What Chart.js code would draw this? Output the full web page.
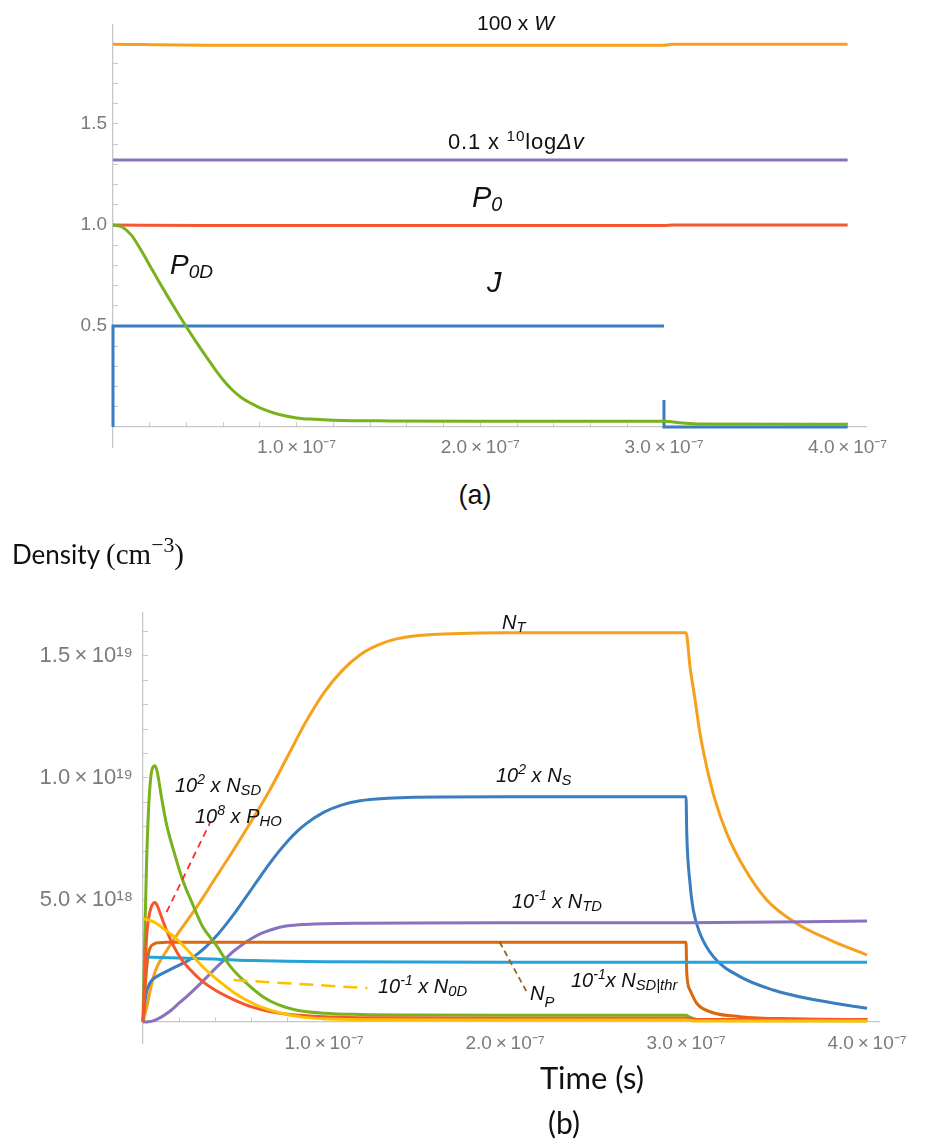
<!DOCTYPE html>
<html><head><meta charset="utf-8">
<script src="https://cdn.jsdelivr.net/npm/chart.js@4.4.1/dist/chart.umd.min.js"></script>
<style>
html,body{margin:0;padding:0;background:#fff;}
body{width:931px;height:1147px;position:relative;overflow:hidden;font-family:"Liberation Sans",Arial,sans-serif;}
canvas{position:absolute;left:0;}
#ca{top:0}
#cb{top:560px}
.l{position:absolute;white-space:nowrap;line-height:1;color:#111;}
.m{font-style:italic;}
.sup{font-size:0.7em;position:relative;top:-0.55em;}
.sub{font-size:0.74em;position:relative;top:0.2em;}
.cal{font-family:Lato,"Open Sans",sans-serif;color:#111;}
.ser{font-family:"Liberation Serif","DejaVu Serif",serif;}
</style></head><body>
<canvas id="ca" width="931" height="480"></canvas>
<canvas id="cb" width="931" height="587"></canvas>

<!-- panel (a) labels -->
<div class="l" style="left:477px;top:12px;font-size:21px">100 x <i>W</i></div>
<div class="l" style="left:448px;top:131px;font-size:22px;letter-spacing:0.8px">0.1 x <span class="sup">10</span>log<i>Δv</i></div>
<div class="l m" style="left:472px;top:183px;font-size:29px">P<span class="sub" style="font-size:0.68em">0</span></div>
<div class="l m" style="left:170px;top:251px;font-size:28px">P<span class="sub" style="font-size:0.68em">0D</span></div>
<div class="l m" style="left:487px;top:268px;font-size:29px">J</div>
<div class="l" style="left:425px;width:100px;text-align:center;top:482px;font-size:27px">(a)</div>

<!-- panel (b) labels -->
<div class="l cal" style="left:12px;top:540px;font-size:26px">Density <span class="ser" style="font-size:29px">(cm<span class="sup" style="font-size:0.75em">−3</span>)</span></div>
<div class="l m" style="left:502px;top:612px;font-size:20px">N<span class="sub">T</span></div>
<div class="l m" style="left:496px;top:765px;font-size:20px">10<span class="sup">2</span> x N<span class="sub">S</span></div>
<div class="l m" style="left:175px;top:775px;font-size:20px">10<span class="sup">2</span> x N<span class="sub">SD</span></div>
<div class="l m" style="left:195px;top:806px;font-size:20px">10<span class="sup">8</span> x P<span class="sub">HO</span></div>
<div class="l m" style="left:512px;top:891px;font-size:20px">10<span class="sup">-1</span> x N<span class="sub">TD</span></div>
<div class="l m" style="left:378px;top:976px;font-size:20px">10<span class="sup">-1</span> x N<span class="sub">0D</span></div>
<div class="l m" style="left:530px;top:983px;font-size:20px">N<span class="sub" style="top:0.45em">P</span></div>
<div class="l m" style="left:571px;top:970px;font-size:20px">10<span class="sup">-1</span>x N<span class="sub">SD|thr</span></div>
<div class="l cal" style="left:492px;width:200px;text-align:center;top:1062px;font-size:31px">Time (s)</div>
<div class="l cal" style="left:514px;width:100px;text-align:center;top:1107px;font-size:30px">(b)</div>

<script>
// ---------- Panel (a) data ----------
const tW = [0, 0.5e-7, 3.0e-7, 3.05e-7, 4.0e-7];
const W100 = [1.895, 1.89, 1.89, 1.895, 1.895];
const tLogDv = [0, 4.0e-7];
const logDv = [1.322, 1.322];
const tP0 = [0, 0.5e-7, 3.0e-7, 3.05e-7, 4.0e-7];
const P0 = [1.0, 0.997, 0.997, 1.0, 1.0];
const tP0D = [0, 0.05e-7, 0.1e-7, 0.15e-7, 0.2e-7, 0.25e-7, 0.3e-7, 0.35e-7, 0.4e-7, 0.45e-7, 0.5e-7, 0.55e-7, 0.6e-7, 0.65e-7, 0.7e-7, 0.75e-7, 0.8e-7, 0.85e-7, 0.9e-7, 1.0e-7, 1.1e-7, 1.2e-7, 1.5e-7, 2.0e-7, 3.0e-7, 3.1e-7, 3.2e-7, 4.0e-7];
const P0D = [1.0, 0.99, 0.95, 0.88, 0.80, 0.72, 0.643, 0.568, 0.495, 0.425, 0.358, 0.293, 0.233, 0.183, 0.145, 0.118, 0.095, 0.077, 0.063, 0.045, 0.038, 0.034, 0.030, 0.028, 0.028, 0.02, 0.015, 0.013];
const tJ = [0, 0, 3.0e-7, 3.0e-7, 3.0e-7, 3.0e-7, 4.0e-7];
const J = [0, 0.5, 0.5, null, 0.134, 0, 0];

const xMajorA = [1e-7, 2e-7, 3e-7, 4e-7];
const xMinorA = [0.2e-7, 0.4e-7, 0.6e-7, 0.8e-7, 1.2e-7, 1.4e-7, 1.6e-7, 1.8e-7, 2.2e-7, 2.4e-7, 2.6e-7, 2.8e-7, 3.2e-7, 3.4e-7, 3.6e-7, 3.8e-7];
const xLabelsA = ['1.0\u2009×\u200910⁻⁷', '2.0\u2009×\u200910⁻⁷', '3.0\u2009×\u200910⁻⁷', '4.0\u2009×\u200910⁻⁷'];
const yMajorA = [0.5, 1.0, 1.5];
const yMinorA = [0.1, 0.2, 0.3, 0.4, 0.6, 0.7, 0.8, 0.9, 1.1, 1.2, 1.3, 1.4, 1.6, 1.7, 1.8, 1.9];
const yLabelsA = ['0.5', '1.0', '1.5'];

// ---------- Panel (b) data ----------
const tNT = [0, 0.02e-7, 0.04e-7, 0.06e-7, 0.08e-7, 0.12e-7, 0.2e-7, 0.3e-7, 0.4e-7, 0.5e-7, 0.6e-7, 0.7e-7, 0.8e-7, 0.9e-7, 1.0e-7, 1.1e-7, 1.2e-7, 1.3e-7, 1.4e-7, 1.6e-7, 1.8e-7, 2.0e-7, 3.0e-7, 3.022e-7, 3.05e-7, 3.077e-7, 3.114e-7, 3.16e-7, 3.225e-7, 3.317e-7, 3.446e-7, 3.611e-7, 3.796e-7, 4.0e-7];
const NT = [0, 0.6e18, 1.3e18, 1.9e18, 2.3e18, 2.8e18, 3.7e18, 4.75e18, 5.9e18, 7.05e18, 8.25e18, 9.5e18, 10.9e18, 12.3e18, 13.5e18, 14.4e18, 15.05e18, 15.45e18, 15.7e18, 15.88e18, 15.93e18, 15.95e18, 15.95e18, 14.56e18, 13.2e18, 11.83e18, 10.46e18, 9.1e18, 7.73e18, 6.37e18, 5.0e18, 4.04e18, 3.36e18, 2.75e18];
const tNS = [0, 0.01e-7, 0.02e-7, 0.035e-7, 0.05e-7, 0.08e-7, 0.11e-7, 0.15e-7, 0.2e-7, 0.25e-7, 0.3e-7, 0.35e-7, 0.4e-7, 0.45e-7, 0.5e-7, 0.55e-7, 0.6e-7, 0.65e-7, 0.7e-7, 0.75e-7, 0.8e-7, 0.85e-7, 0.9e-7, 1.0e-7, 1.1e-7, 1.2e-7, 1.35e-7, 1.5e-7, 2.0e-7, 3.0e-7, 3.004e-7, 3.022e-7, 3.04e-7, 3.077e-7, 3.151e-7, 3.298e-7, 3.482e-7, 3.667e-7, 4.0e-7];
const NS = [0, 0.8e18, 1.25e18, 1.55e18, 1.72e18, 1.88e18, 2.0e18, 2.15e18, 2.33e18, 2.52e18, 2.78e18, 3.1e18, 3.48e18, 3.92e18, 4.4e18, 4.92e18, 5.45e18, 5.98e18, 6.5e18, 6.98e18, 7.42e18, 7.8e18, 8.12e18, 8.6e18, 8.9e18, 9.07e18, 9.17e18, 9.21e18, 9.23e18, 9.23e18, 7.73e18, 5.68e18, 4.59e18, 3.63e18, 2.68e18, 1.86e18, 1.31e18, 0.97e18, 0.56e18];
const tNSD = [0, 0.01e-7, 0.02e-7, 0.03e-7, 0.04e-7, 0.05e-7, 0.066e-7, 0.08e-7, 0.1e-7, 0.13e-7, 0.17e-7, 0.22e-7, 0.27e-7, 0.33e-7, 0.4e-7, 0.48e-7, 0.57e-7, 0.66e-7, 0.75e-7, 0.85e-7, 1.0e-7, 1.2e-7, 1.5e-7, 2.0e-7, 3.0e-7, 3.02e-7, 3.06e-7, 3.15e-7, 4.0e-7];
const NSD = [0, 3.5e18, 6.6e18, 8.6e18, 9.8e18, 10.35e18, 10.5e18, 10.2e18, 9.3e18, 8.1e18, 7.0e18, 5.8e18, 4.9e18, 3.9e18, 3.2e18, 2.3e18, 1.6e18, 1.05e18, 0.7e18, 0.48e18, 0.36e18, 0.31e18, 0.29e18, 0.28e18, 0.28e18, 0.2e18, 0.1e18, 0.06e18, 0.05e18];
const tPHO = [0, 0.01e-7, 0.02e-7, 0.03e-7, 0.045e-7, 0.066e-7, 0.08e-7, 0.1e-7, 0.13e-7, 0.17e-7, 0.21e-7, 0.26e-7, 0.32e-7, 0.4e-7, 0.5e-7, 0.6e-7, 0.7e-7, 0.8e-7, 1.0e-7, 1.3e-7, 2.0e-7, 3.0e-7, 3.05e-7, 4.0e-7];
const PHO = [0, 2.0e18, 3.5e18, 4.2e18, 4.7e18, 4.9e18, 4.75e18, 4.35e18, 3.75e18, 3.1e18, 2.6e18, 2.15e18, 1.72e18, 1.3e18, 0.92e18, 0.62e18, 0.43e18, 0.32e18, 0.22e18, 0.17e18, 0.15e18, 0.15e18, 0.1e18, 0.1e18];
const tN0D = [0, 0.03e-7, 0.066e-7, 0.1e-7, 0.15e-7, 0.2e-7, 0.25e-7, 0.3e-7, 0.35e-7, 0.4e-7, 0.45e-7, 0.5e-7, 0.57e-7, 0.65e-7, 0.76e-7, 0.88e-7, 1.03e-7, 1.3e-7, 2.0e-7, 3.0e-7, 3.05e-7, 4.0e-7];
const N0D = [4.22e18, 4.18e18, 4.08e18, 3.9e18, 3.62e18, 3.3e18, 2.92e18, 2.5e18, 2.12e18, 1.8e18, 1.5e18, 1.22e18, 0.9e18, 0.62e18, 0.37e18, 0.2e18, 0.12e18, 0.09e18, 0.08e18, 0.08e18, 0.04e18, 0.04e18];
const tNP = [0, 0.01e-7, 0.02e-7, 0.03e-7, 0.04e-7, 0.06e-7, 0.09e-7, 0.13e-7, 3.0e-7, 3.004e-7, 3.022e-7, 3.059e-7, 3.133e-7, 3.298e-7, 3.6e-7, 4.0e-7];
const NP = [0, 1.2e18, 2.2e18, 2.8e18, 3.05e18, 3.2e18, 3.25e18, 3.27e18, 3.27e18, 2.0e18, 1.31e18, 0.77e18, 0.42e18, 0.22e18, 0.13e18, 0.1e18];
const tNSDthr = [0, 0.3e-7, 0.6e-7, 1.0e-7, 2.0e-7, 4.0e-7];
const NSDthr = [2.66e18, 2.6e18, 2.52e18, 2.47e18, 2.45e18, 2.45e18];
const tNTD = [0, 0.03e-7, 0.06e-7, 0.1e-7, 0.15e-7, 0.2e-7, 0.25e-7, 0.3e-7, 0.35e-7, 0.4e-7, 0.45e-7, 0.5e-7, 0.55e-7, 0.6e-7, 0.65e-7, 0.7e-7, 0.75e-7, 0.8e-7, 0.9e-7, 1.0e-7, 1.2e-7, 1.5e-7, 3.0e-7, 4.0e-7];
const NTD = [0, 0.01e18, 0.06e18, 0.2e18, 0.45e18, 0.78e18, 1.1e18, 1.45e18, 1.82e18, 2.2e18, 2.55e18, 2.9e18, 3.18e18, 3.42e18, 3.62e18, 3.76e18, 3.87e18, 3.94e18, 4.0e18, 4.03e18, 4.05e18, 4.06e18, 4.07e18, 4.14e18];
// label leader lines
const tLeadPHO = [0.13e-7, 0.37e-7];
const leadPHO = [4.5e18, 8.16e18];
const tLeadN0D = [0.5e-7, 1.24e-7];
const leadN0D = [1.72e18, 1.39e18];
const tLeadNP = [1.97e-7, 2.12e-7];
const leadNP = [3.28e18, 1.23e18];

const xMajorB = [1e-7, 2e-7, 3e-7, 4e-7];
const xMinorB = xMinorA;
const xLabelsB = xLabelsA;
const yMajorB = [5e18, 1e19, 1.5e19];
const yMinorB = [1e18, 2e18, 3e18, 4e18, 6e18, 7e18, 8e18, 9e18, 11e18, 12e18, 13e18, 14e18, 16e18];
const yLabelsB = ['5.0\u2009×\u200910¹⁸', '1.0\u2009×\u200910¹⁹', '1.5\u2009×\u200910¹⁹'];

// ---------- helpers ----------
const pts = (t, v) => t.map((x, i) => ({x: x, y: v[i]}));
const AXIS = '#c8c8c8';
const TICKTXT = '#7b7b7b';

function lineDs(t, v, color, width, extra) {
  return Object.assign({
    data: pts(t, v), borderColor: color, backgroundColor: color, borderWidth: width,
    pointRadius: 0, fill: false, cubicInterpolationMode: 'monotone', clip: 8, spanGaps: false
  }, extra || {});
}

function makeTickCfg(majors, minors, labels, pad, fontSize, fitWidth) {
  const cfg = {
    afterBuildTicks: (scale) => {
      scale.ticks = majors.map(v => ({value: v, major: true})).concat(minors.map(v => ({value: v, major: false})));
    },
    ticks: {
      autoSkip: false, maxRotation: 0, minRotation: 0, padding: pad, color: TICKTXT,
      font: {family: 'Liberation Sans', size: fontSize},
      callback: (val) => {
        for (let i = 0; i < majors.length; i++) {
          if (Math.abs(val - majors[i]) < Math.abs(majors[i]) * 1e-6) return labels[i];
        }
        return '';
      }
    },
    border: {display: true, color: AXIS, width: 1.3},
    grid: {drawOnChartArea: false, drawTicks: true, tickLength: -5, tickColor: AXIS, tickWidth: 1}
  };
  if (fitWidth) cfg.afterFit = (scale) => { scale.width = fitWidth; };
  return cfg;
}

const common = {
  responsive: false, animation: false, events: [],
  plugins: {legend: {display: false}, tooltip: {enabled: false}, title: {display: false}},
};

// ---------- Chart (a) ----------
new Chart(document.getElementById('ca'), {
  type: 'line',
  data: {datasets: [
    lineDs(tP0D, P0D, '#78b21c', 3),
    lineDs(tJ, J, '#3a7dc0', 3, {cubicInterpolationMode: 'default', tension: 0}),
    lineDs(tP0, P0, '#f5582f', 3),
    lineDs(tLogDv, logDv, '#8a72bd', 3),
    lineDs(tW, W100, '#f5a11c', 3)
  ]},
  options: Object.assign({}, common, {
    layout: {padding: {left: 13, right: 65, top: 25, bottom: 33}},
    scales: {
      x: Object.assign({type: 'linear', min: 0, max: 4.1e-7, position: {y: 0}}, makeTickCfg(xMajorA, xMinorA, xLabelsA, 14, 19)),
      y: Object.assign({type: 'linear', min: -0.099, max: 1.99, position: 'left'}, makeTickCfg(yMajorA, yMinorA, yLabelsA, 11, 19, 100))
    }
  })
});

// ---------- Chart (b) ----------
new Chart(document.getElementById('cb'), {
  type: 'line',
  data: {datasets: [
    lineDs(tLeadPHO, leadPHO, '#ff2a2a', 1.8, {borderDash: [7, 5], cubicInterpolationMode: 'default', tension: 0}),
    lineDs(tLeadN0D, leadN0D, '#ffc000', 2.5, {borderDash: [14, 8], cubicInterpolationMode: 'default', tension: 0}),
    lineDs(tLeadNP, leadNP, '#8b6a1a', 1.8, {borderDash: [6, 4], cubicInterpolationMode: 'default', tension: 0}),
    lineDs(tN0D, N0D, '#ffc000', 3),
    lineDs(tPHO, PHO, '#f5582f', 3),
    lineDs(tNSD, NSD, '#78b21c', 3),
    lineDs(tNSDthr, NSDthr, '#27a2d8', 3),
    lineDs(tNP, NP, '#d9680f', 3),
    lineDs(tNTD, NTD, '#8a72bd', 3),
    lineDs(tNS, NS, '#3a7dc0', 3),
    lineDs(tNT, NT, '#f5a11c', 3)
  ]},
  options: Object.assign({}, common, {
    layout: {padding: {left: 13, right: 52, top: 53, bottom: 104}},
    scales: {
      x: Object.assign({type: 'linear', min: 0, max: 4.066e-7, position: {y: 0}}, makeTickCfg(xMajorB, xMinorB, xLabelsB, 15, 19)),
      y: Object.assign({type: 'linear', min: -0.86e18, max: 16.76e18, position: 'left'}, makeTickCfg(yMajorB, yMinorB, yLabelsB, 15, 22, 130))
    }
  })
});
</script>
</body></html>
